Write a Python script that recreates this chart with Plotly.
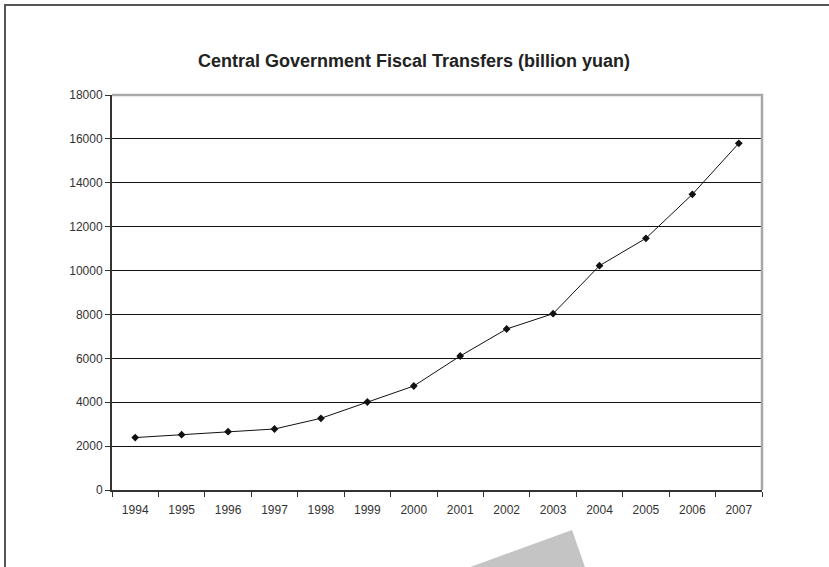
import plotly.graph_objects as go

years = ["1994", "1995", "1996", "1997", "1998", "1999", "2000",
         "2001", "2002", "2003", "2004", "2005", "2006", "2007"]
transfers = [2389, 2520, 2657, 2780, 3267, 4010, 4739,
             6106, 7337, 8034, 10221, 11469, 13475, 15798]
y_ticks = [0, 2000, 4000, 6000, 8000, 10000, 12000, 14000, 16000, 18000]
y_tick_labels = ["0", "2000", "4000", "6000", "8000", "10000", "12000",
                 "14000", "16000", "18000"]
title_text = "Central Government Fiscal Transfers (billion yuan)"

W, H = 829, 567
L, R, T, B = 112, 67, 95, 77
pw, ph = W - L - R, H - T - B

def px(x):
    return (x - L) / pw

def py(y):
    return (H - B - y) / ph

fig = go.Figure()
fig.add_trace(go.Scatter(
    x=years, y=transfers, mode="lines+markers",
    line=dict(color="#111111", width=1),
    marker=dict(symbol="diamond", size=6, color="#111111"),
    showlegend=False,
))

shapes = [
    # outer frame (top and left)
    dict(type="path", xref="paper", yref="paper",
         path=f"M {px(5)},{py(H+5)} L {px(5)},{py(5)} L {px(W+5)},{py(5)}",
         line=dict(color="#555555", width=2)),
    # plot area top and right border (gray)
    dict(type="path", xref="paper", yref="paper",
         path="M 0,1 L 1,1 L 1,0",
         line=dict(color="#a8a8a8", width=2.5)),
    # gray decorative polygon at bottom
    dict(type="path", xref="paper", yref="paper",
         path=f"M {px(572)},{py(530)} L {px(586)},{py(570)} L {px(462)},{py(570)} Z",
         fillcolor="#c4c4c4", line=dict(width=0)),
]

fig.update_layout(
    width=W, height=H,
    margin=dict(l=L, r=R, t=T, b=B),
    paper_bgcolor="white", plot_bgcolor="white",
    font=dict(family="Liberation Sans, Arial, sans-serif", size=12, color="#333333"),
    title=dict(text=f"<b>{title_text}</b>", x=414 / W, xanchor="center",
               y=1 - 61 / H, yanchor="middle",
               font=dict(size=18, color="#222222")),
    xaxis=dict(
        type="category", tickson="boundaries",
        showline=True, linecolor="#333333", linewidth=2,
        ticks="outside", ticklen=5, tickcolor="#333333", tickwidth=1,
        showgrid=False, zeroline=False,
        tickfont=dict(size=12, color="#333333"),
        range=[-0.5, len(years) - 0.5], fixedrange=True,
        ticklabelstandoff=8,
    ),
    yaxis=dict(
        range=[0, 18000], tickvals=y_ticks, ticktext=y_tick_labels,
        showline=True, linecolor="#333333", linewidth=2,
        ticks="outside", ticklen=5, tickcolor="#333333", tickwidth=1,
        showgrid=True, gridcolor="#111111", gridwidth=1,
        zeroline=False, tickfont=dict(size=12, color="#333333"),
        ticklabelstandoff=0,
    ),
    shapes=shapes,
)

fig.write_html("out.html", config={"displayModeBar": False},
               post_script="document.body.style.margin='0';document.body.style.overflow='hidden';")
